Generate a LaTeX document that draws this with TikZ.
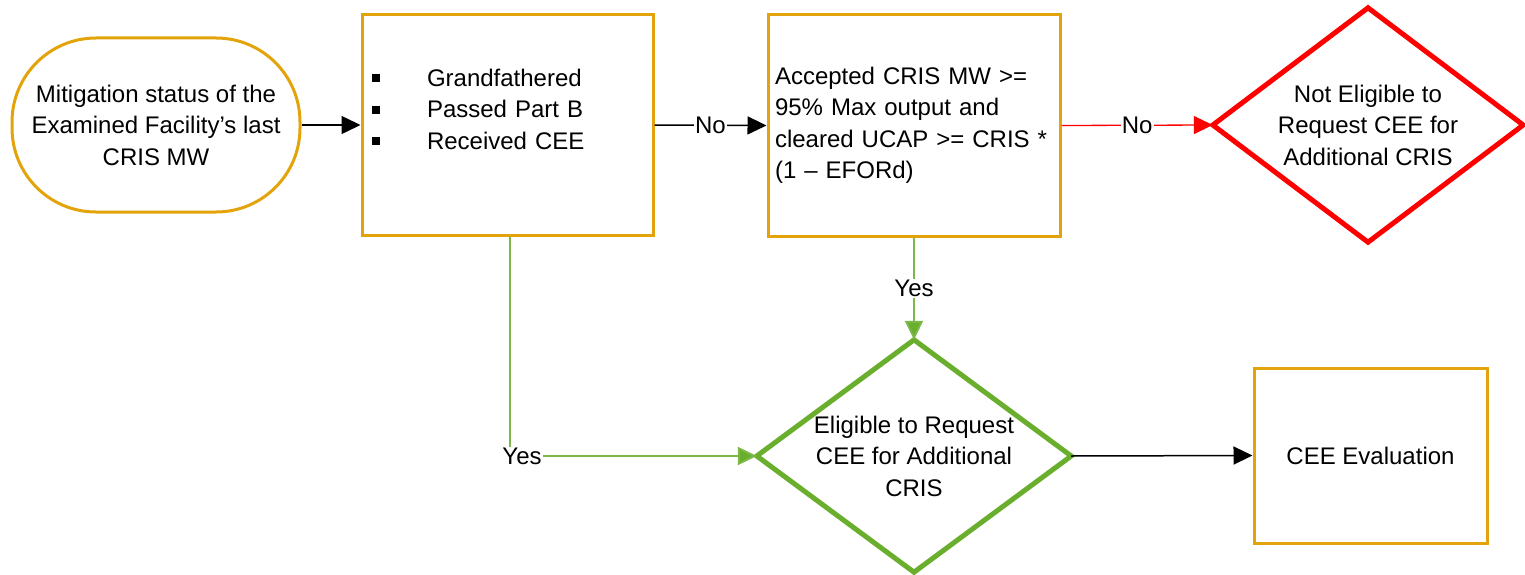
\documentclass[tikz,border=0pt]{standalone}
\usepackage{fontspec}
\setmainfont{Liberation Sans}
\usetikzlibrary{arrows.meta}
\definecolor{boxorange}{RGB}{226,164,10}
\definecolor{lgreen}{RGB}{122,184,72}
\definecolor{dgreen}{RGB}{106,174,46}
\definecolor{bred}{RGB}{255,0,0}
\tikzset{
  txt/.style={font=\fontsize{24}{31.5}\selectfont, text=black},
  box/.style={txt, draw=boxorange, line width=3pt, rectangle},
  dbox/.style={txt, rectangle, inner sep=0pt, align=center},
  arr/.style={line width=1.5pt, -{Triangle[length=19pt,width=18pt]}},
  lbl/.style={txt, fill=white, inner sep=1pt},
}
\newcommand{\bul}{\makebox[56pt][l]{\hspace{1pt}\raisebox{4pt}{\rule{8pt}{8pt}}}}
\begin{document}
\begin{tikzpicture}[x=1pt,y=-1pt]
\useasboundingbox (0,0) rectangle (1525,575);
% nodes
\node[box, rounded corners=84pt, minimum width=288pt, minimum height=174pt, align=center, inner sep=0pt] (start) at (156,125)
  {Mitigation status of the\\Examined Facility’s last\\CRIS MW};
\node[box, minimum width=291pt, minimum height=220pt, text width=273pt, inner xsep=9pt, align=left] (b1) at (507.5,125)
  {\bul Grandfathered\\\bul Passed Part B\\\bul Received CEE\\\mbox{}};
\node[box, minimum width=292pt, minimum height=221pt, text width=278pt, inner xsep=7pt, align=left] (b2) at (914,125.5)
  {Accepted CRIS MW >=\\95\% Max output and\\cleared UCAP >= CRIS *\\(1 – EFORd)};
\node[dbox, minimum width=310pt, minimum height=234pt] (nd) at (1368,125)
  {Not Eligible to\\Request CEE for\\Additional CRIS};
\draw[bred, line width=5pt, line join=miter] (nd.west) -- (nd.north) -- (nd.east) -- (nd.south) -- cycle;
\node[dbox, minimum width=314pt, minimum height=232pt] (gd) at (914,456)
  {Eligible to Request\\CEE for Additional\\CRIS};
\draw[dgreen, line width=5pt, line join=miter] (gd.west) -- (gd.north) -- (gd.east) -- (gd.south) -- cycle;
\node[box, minimum width=233pt, minimum height=175pt, align=center] (b3) at (1370.5,455.5) {CEE Evaluation};
% connectors
\draw[arr, black] (start.east) -- (b1.west);
\draw[arr, black] (b1.east) -- node[lbl]{No} (b2.west);
\draw[arr, bred, line width=1.3pt] (b2.east) -- node[lbl]{No} (nd.west);
\draw[arr, lgreen, line width=2pt, -{Triangle[length=19pt,width=18pt,fill=dgreen]}] (b2.south) -- node[lbl]{Yes} (gd.north);
\draw[arr, lgreen, line width=2pt, -{Triangle[length=19pt,width=18pt,fill=dgreen]}] ([xshift=2.5pt]b1.south) |- node[lbl, pos=0.5, xshift=12pt]{Yes} (gd.west);
\draw[arr, black] (gd.east) -- (b3.west);
\end{tikzpicture}
\end{document}
